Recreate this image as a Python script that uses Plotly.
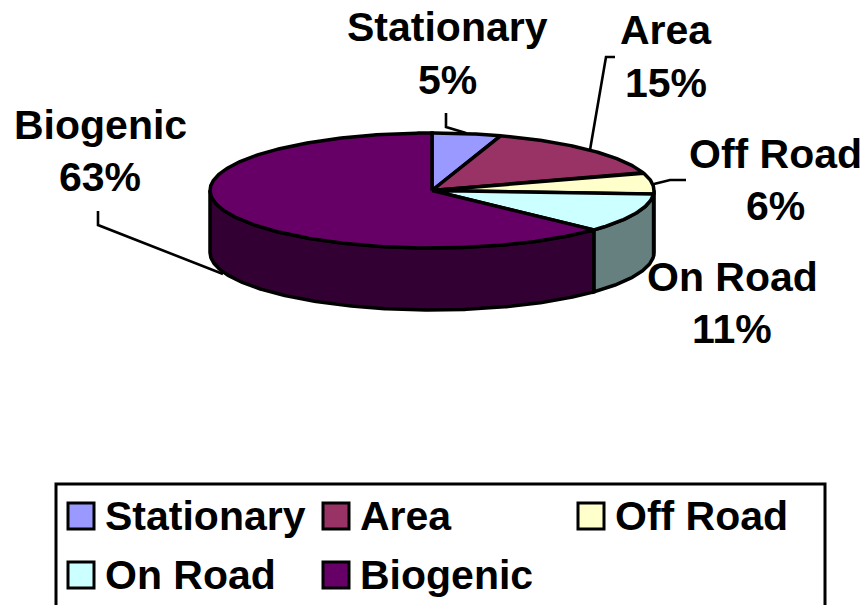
import numpy as np
import plotly.graph_objects as go

categories = ["Stationary", "Area", "Off Road", "On Road", "Biogenic"]
values = [5, 15, 6, 11, 63]
top_colors = ["#9999FF", "#993366", "#FFFFCC", "#CCFFFF", "#660066"]
wall_colors = ["#4D4D80", "#4D1A33", "#808066", "#668080", "#330033"]

# pie geometry in the page's pixel space
CX, CY, RX, RY, DEPTH = 432, 190.5, 222, 57.5, 62
LW = 3.5
FONT = "Liberation Sans, Arial, sans-serif"
FS = 41

label_pos = {  # centre x, y of first line, y of second line
    "Stationary": (447, 27, 80),
    "Area": (666, 30, 83),
    "Off Road": (775, 154, 206),
    "On Road": (732, 277, 329),
    "Biogenic": (100, 125, 177),
}
leaders = [
    [(446, 113), (446, 127), (466, 133)],
    [(615, 57), (606, 57), (590, 150)],
    [(686, 180), (670, 180), (654, 184)],
    [(98, 211), (98, 225), (223, 274)],
]
legend_cells = [(68, 516), (323, 516), (578, 516), (68, 575), (323, 575)]
SWATCH = 26


def arc(a, b, dy=0):
    t = np.radians(np.linspace(a, b, max(int(abs(b - a)) * 2, 2)))
    return CX + RX * np.sin(t), CY + dy - RY * np.cos(t)


fig = go.Figure()
edges = np.concatenate([[0], np.cumsum(values)]) * 360 / sum(values)

# side walls: only the front half of the rim (90 to 270 degrees) is visible
for name, a, b, col in zip(categories, edges[:-1], edges[1:], wall_colors):
    lo, hi = max(a, 90), min(b, 270)
    if lo >= hi:
        continue
    x1, y1 = arc(lo, hi)
    x2, y2 = arc(hi, lo, DEPTH)
    fig.add_trace(go.Scatter(
        x=np.r_[x1, x2, x1[0]], y=np.r_[y1, y2, y1[0]], mode="lines", fill="toself",
        fillcolor=col, line=dict(color="black", width=LW), name=name,
        hoverinfo="skip", showlegend=False))

# top face
for name, v, a, b, col in zip(categories, values, edges[:-1], edges[1:], top_colors):
    x, y = arc(a, b)
    fig.add_trace(go.Scatter(
        x=np.r_[CX, x, CX], y=np.r_[CY, y, CY], mode="lines", fill="toself",
        fillcolor=col, line=dict(color="black", width=LW), name=name,
        text=f"{name}: {v}%", hoverinfo="text", showlegend=False))

shapes = []
for pts in leaders:
    path = "M " + " L ".join(f"{x},{y}" for x, y in pts)
    shapes.append(dict(type="path", path=path, line=dict(color="black", width=2.6), layer="above"))

# legend frame runs off the bottom of the page
shapes.append(dict(type="rect", x0=56, y0=484, x1=825, y1=640,
                   line=dict(color="black", width=3), fillcolor="white", layer="below"))

bold = dict(family=FONT, size=FS, color="black", weight=700)
annotations = []
for name, v in zip(categories, values):
    cx, y1, y2 = label_pos[name]
    for txt, yy in ((name, y1), (f"{v}%", y2)):
        annotations.append(dict(x=cx, y=yy, text=txt, showarrow=False, xanchor="center",
                                yanchor="middle", font=bold))

for name, col, (lx, ly) in zip(categories, top_colors, legend_cells):
    shapes.append(dict(type="rect", x0=lx, x1=lx + SWATCH, y0=ly - SWATCH / 2, y1=ly + SWATCH / 2,
                       fillcolor=col, line=dict(color="black", width=3), layer="above"))
    annotations.append(dict(x=lx + SWATCH + 9, y=ly, text=name, showarrow=False, xanchor="left",
                            yanchor="middle", font=bold))

fig.update_layout(
    width=865, height=605, margin=dict(l=0, r=0, t=0, b=0),
    paper_bgcolor="white", plot_bgcolor="white", showlegend=False,
    xaxis=dict(range=[0, 865], visible=False, fixedrange=True),
    yaxis=dict(range=[605, 0], visible=False, fixedrange=True),
    shapes=shapes, annotations=annotations,
    font=dict(family=FONT),
)
fig.update_traces(cliponaxis=False)
fig.write_html("out.html", config={"displayModeBar": False},
               post_script="document.body.style.margin='0';")
